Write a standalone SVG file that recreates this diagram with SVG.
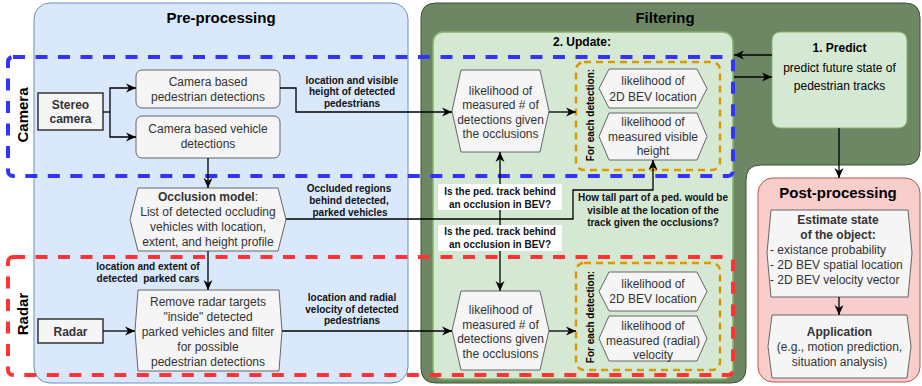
<svg xmlns="http://www.w3.org/2000/svg" width="922" height="386" viewBox="0 0 922 386">
<style>
text{font-family:"Liberation Sans",Arial,sans-serif}
.n{font-size:12px;fill:#333;text-anchor:middle}
.nl{font-size:12px;fill:#333;text-anchor:start}
.b{font-weight:bold}
.lbl{font-size:10px;font-weight:bold;fill:#111;text-anchor:middle}
.title{font-size:15px;font-weight:bold;fill:#000;text-anchor:middle}
.gray{fill:#f5f5f5;stroke:#666;stroke-width:1}
.src{fill:#f5f5f5;stroke:#333;stroke-width:1.5}
.edge{fill:none;stroke:#000;stroke-width:1.3;marker-end:url(#arr)}
.plain{fill:none;stroke:#000;stroke-width:1.3}
.blue{fill:none;stroke:#3333ff;stroke-width:4;stroke-dasharray:12 10.5}
.red{fill:none;stroke:#ff3333;stroke-width:4;stroke-dasharray:12 10.5}
.orange{fill:none;stroke:#d79b00;stroke-width:2.5;stroke-dasharray:7 5}
.rot{font-size:15px;font-weight:bold;fill:#000;text-anchor:middle}
.rot10{font-size:10px;font-weight:bold;fill:#000;text-anchor:middle}
</style>
<defs>
<marker id="arr" viewBox="0 0 10 10" refX="10" refY="5" markerWidth="10" markerHeight="10" markerUnits="userSpaceOnUse" orient="auto">
<path d="M0,0.5 L10,5 L0,9.5 L3,5 z" fill="#000"/>
</marker>
</defs>

<!-- Panels -->
<g id="preprocessing">
<rect x="34" y="3" width="374" height="380" rx="16" fill="#dae8fc" stroke="#6c8ebf" stroke-width="1"/>
<text class="title" x="221" y="23">Pre-processing</text>
</g>
<g id="filtering">
<path d="M436,3 H905 Q920,3 920,18 V150 Q920,165 905,165 H761 Q746,165 746,180 V368 Q746,383 731,383 H436 Q421,383 421,368 V18 Q421,3 436,3 Z" fill="#6d8764" stroke="#3a5431" stroke-width="1"/>
<text class="title" x="665" y="23">Filtering</text>
</g>
<g id="update">
<rect x="433" y="32" width="300" height="347" rx="10" fill="#d5e8d4" stroke="#82b366" stroke-width="1.5"/>
<text class="n b" x="582" y="46" style="fill:#000">2. Update:</text>
</g>
<g id="postprocessing">
<rect x="758" y="178" width="162" height="204" rx="15" fill="#f8cecc" stroke="#b85450" stroke-width="1"/>
<text class="title" x="838" y="198">Post-processing</text>
</g>

<!-- Sensor groups -->
<g id="camera-group">
<rect class="blue" x="8" y="57" width="725" height="119" rx="5"/>
<text class="rot" transform="translate(28,115) rotate(-90)">Camera</text>
</g>
<g id="radar-group">
<rect class="red" x="8" y="257" width="725" height="118" rx="5"/>
<text class="rot" transform="translate(28,314) rotate(-90)">Radar</text>
</g>
<g id="each-detection-top">
<rect class="orange" x="576" y="62" width="144" height="108" rx="8"/>
<text class="rot10" transform="translate(594,115) rotate(-90)">For each detection:</text>
</g>
<g id="each-detection-bottom">
<rect class="orange" x="576" y="263" width="144" height="107" rx="8"/>
<text class="rot10" transform="translate(594,317) rotate(-90)">For each detection:</text>
</g>

<!-- Nodes -->
<g id="stereo-camera">
<rect class="src" x="38" y="93" width="65" height="37"/>
<text class="n b" x="70.5" y="109">Stereo</text>
<text class="n b" x="70.5" y="123">camera</text>
</g>
<g id="radar">
<rect class="src" x="38" y="319" width="65" height="24"/>
<text class="n b" x="70.5" y="335.5">Radar</text>
</g>
<g id="cam-ped">
<rect class="gray" x="136" y="70" width="144" height="38" rx="6"/>
<text class="n" x="208" y="86">Camera based</text>
<text class="n" x="208" y="101">pedestrian detections</text>
</g>
<g id="cam-veh">
<rect class="gray" x="136" y="116" width="144" height="42" rx="6"/>
<text class="n" x="208" y="133">Camera based vehicle</text>
<text class="n" x="208" y="148">detections</text>
</g>
<g id="occlusion-model">
<polygon class="gray" points="138,188 278,188 286,219.5 278,251 138,251 130,219.5"/>
<text class="n" x="208" y="201"><tspan class="b">Occlusion model</tspan>:</text>
<text class="n" x="208" y="216">List of detected occluding</text>
<text class="n" x="208" y="231">vehicles with location,</text>
<text class="n" x="208" y="246">extent, and height profile</text>
</g>
<g id="remove-radar">
<polygon class="gray" points="138,290 279,290 282,331 279,371 138,371 135,331"/>
<text class="n" x="208" y="306">Remove radar targets</text>
<text class="n" x="208" y="321">"inside" detected</text>
<text class="n" x="208" y="336">parked vehicles and filter</text>
<text class="n" x="208" y="351">for possible</text>
<text class="n" x="208" y="366">pedestrian detections</text>
</g>
<g id="lik-count-top">
<polygon class="gray" points="461,70 540,70 549,111 540,152 461,152 452,111"/>
<text class="n" x="500.5" y="94.5">likelihood of</text>
<text class="n" x="500.5" y="109">measured # of</text>
<text class="n" x="500.5" y="123.5">detections given</text>
<text class="n" x="500.5" y="138">the occlusions</text>
</g>
<g id="lik-count-bottom">
<polygon class="gray" points="461,291 540,291 549,330.5 540,370 461,370 452,330.5"/>
<text class="n" x="500.5" y="314">likelihood of</text>
<text class="n" x="500.5" y="328.5">measured # of</text>
<text class="n" x="500.5" y="343">detections given</text>
<text class="n" x="500.5" y="357.5">the occlusions</text>
</g>
<g id="lik-loc-top">
<polygon class="gray" points="609,69 697,69 707,88.5 697,108 609,108 599,88.5"/>
<text class="n" x="653" y="85">likelihood of</text>
<text class="n" x="653" y="101">2D BEV location</text>
</g>
<g id="lik-height">
<polygon class="gray" points="609,113 697,113 707,136.5 697,160 609,160 599,136.5"/>
<text class="n" x="653" y="126">likelihood of</text>
<text class="n" x="653" y="141">measured visible</text>
<text class="n" x="653" y="155">height</text>
</g>
<g id="lik-loc-bottom">
<polygon class="gray" points="609,272 697,272 707,291.5 697,311 609,311 599,291.5"/>
<text class="n" x="653" y="288">likelihood of</text>
<text class="n" x="653" y="303">2D BEV location</text>
</g>
<g id="lik-velocity">
<polygon class="gray" points="609,316 697,316 707,338.5 697,361 609,361 599,338.5"/>
<text class="n" x="653" y="330">likelihood of</text>
<text class="n" x="653" y="344.5">measured (radial)</text>
<text class="n" x="653" y="359">velocity</text>
</g>
<g id="predict">
<rect x="772" y="32" width="135" height="96" rx="8" fill="#d5e8d4" stroke="#82b366" stroke-width="1"/>
<text class="n b" x="839.5" y="52" style="fill:#000">1. Predict</text>
<text class="n" x="839.5" y="72" style="fill:#000">predict future state of</text>
<text class="n" x="839.5" y="90" style="fill:#000">pedestrian tracks</text>
</g>
<g id="estimate-state">
<polygon class="gray" points="771,210 908,210 912,253 908,297 771,297 767,253"/>
<text class="n b" x="838" y="224">Estimate state</text>
<text class="n b" x="838" y="239">of the object:</text>
<text class="nl" x="770" y="254">- existance probability</text>
<text class="nl" x="770" y="269">- 2D BEV spatial location</text>
<text class="nl" x="770" y="284">- 2D BEV velocity vector</text>
</g>
<g id="application">
<polygon class="gray" points="772,315 907,315 911,346.5 907,378 772,378 768,346.5"/>
<text class="n b" x="839.5" y="336">Application</text>
<text class="n" x="839.5" y="351">(e.g., motion prediction,</text>
<text class="n" x="839.5" y="366">situation analysis)</text>
</g>

<!-- Connectors -->
<g id="connectors">
<polyline class="plain" points="103,112 110,112"/>
<polyline class="edge" points="110,112 110,88 136,88"/>
<polyline class="edge" points="110,112 110,137 136,137"/>
<polyline class="edge" points="280,88 296,88 296,112 452,112"/>
<line class="edge" x1="208" y1="158" x2="208" y2="188"/>
<line class="edge" x1="208" y1="251" x2="208" y2="290"/>
<line class="edge" x1="103" y1="331" x2="135" y2="331"/>
<line class="edge" x1="282" y1="331" x2="452" y2="331"/>
<polyline class="edge" points="286,219 573,219 573,190 653,190 653,160"/>
<line class="edge" x1="500" y1="219" x2="500" y2="152"/>
<line class="edge" x1="500" y1="219" x2="500" y2="291"/>
<line class="edge" x1="549" y1="112" x2="576" y2="112"/>
<line class="edge" x1="549" y1="331" x2="576" y2="331"/>
<line class="edge" x1="772" y1="55" x2="734" y2="55"/>
<line class="edge" x1="734" y1="77" x2="772" y2="77"/>
<line class="edge" x1="839" y1="128" x2="839" y2="178"/>
<line class="edge" x1="839" y1="297" x2="839" y2="315"/>
</g>

<!-- Connector labels -->
<g id="labels">
<text class="lbl" x="352" y="83.5">location and visible</text>
<text class="lbl" x="352" y="95">height of detected</text>
<text class="lbl" x="352" y="106.5">pedestrians</text>

<text class="lbl" x="349" y="191.5">Occluded regions</text>
<text class="lbl" x="349" y="203.5">behind detected,</text>
<text class="lbl" x="350" y="215.5">parked vehicles</text>

<rect x="438" y="184" width="124" height="26" fill="#fff"/>
<text class="lbl" x="500" y="195">Is the ped. track behind</text>
<text class="lbl" x="500" y="207.5">an occlusion in BEV?</text>
<rect x="438" y="225" width="124" height="26" fill="#fff"/>
<text class="lbl" x="500" y="235">Is the ped. track behind</text>
<text class="lbl" x="500" y="247.5">an occlusion in BEV?</text>

<text class="lbl" x="653" y="201">How tall part of a ped. would be</text>
<text class="lbl" x="653" y="213.5">visible at the location of the</text>
<text class="lbl" x="653" y="226">track given the occlusions?</text>

<text class="lbl" x="148" y="269.5">location and extent of</text>
<text class="lbl" x="148" y="282" xml:space="preserve">detected  parked cars</text>

<text class="lbl" x="352" y="300.5">location and radial</text>
<text class="lbl" x="352" y="312.5">velocity of detected</text>
<text class="lbl" x="352" y="324">pedestrians</text>
</g>
</svg>
